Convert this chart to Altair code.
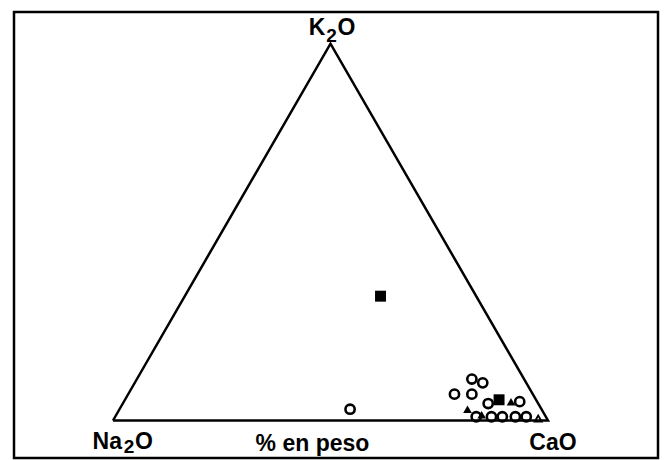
import altair as alt
import pandas as pd

# Sample compositions, % by weight (Na2O, K2O, CaO)
na2o = [22, 44, 12, 10, 18, 14, 11.5, 4, 8.5, 6, 17, 16, 12.5, 10, 7, 4.5, 14.5, 2]
k2o = [33, 3, 11, 10, 7, 7, 4.5, 5, 5.5, 5, 3, 1, 1, 1, 1, 1, 1.5, 0.5]
cao = [45, 53, 77, 80, 75, 79, 84, 91, 86, 89, 80, 83, 86.5, 89, 92, 94.5, 84, 97.5]
kind = ["square", "circle", "circle", "circle", "circle", "circle", "circle", "circle",
        "square", "triangle", "triangle", "circle", "circle", "circle", "circle", "circle",
        "triangle", "open_triangle"]

# Triangle corners as pure end members, closed back to the first
corner_na = [100, 0, 0, 100]
corner_k = [0, 100, 0, 0]
corner_ca = [0, 0, 100, 0]

points = pd.DataFrame({"Na2O": na2o, "K2O": k2o, "CaO": cao, "kind": kind})
corners = pd.DataFrame({"Na2O": corner_na, "K2O": corner_k, "CaO": corner_ca,
                        "order": list(range(len(corner_na)))})

W, H = 644, 446
xs = alt.Scale(domain=[-0.2276, 1.2529], nice=False, zero=False)
ys = alt.Scale(domain=[-0.0862, 0.939], nice=False, zero=False)


def ternary(chart):
    return chart.transform_calculate(
        tot="datum.Na2O + datum.K2O + datum.CaO",
    ).transform_calculate(
        tx="(datum.CaO + datum.K2O / 2) / datum.tot",
        ty="datum.K2O / datum.tot * sqrt(3) / 2",
    )


def xy():
    return dict(
        x=alt.X("tx:Q", scale=xs, axis=None),
        y=alt.Y("ty:Q", scale=ys, axis=None),
    )


outline = ternary(alt.Chart(corners)).mark_line(
    color="black", strokeWidth=2.5, strokeJoin="miter"
).encode(order="order:Q", **xy())

base = ternary(alt.Chart(points))

circles = base.transform_filter("datum.kind == 'circle'").mark_point(
    shape="circle", filled=False, stroke="black", strokeWidth=2.6, size=85, opacity=1
).encode(**xy())

squares = base.transform_filter("datum.kind == 'square'").mark_point(
    shape="square", filled=True, color="black", size=120, opacity=1
).encode(**xy())

triangles = base.transform_filter("datum.kind == 'triangle'").mark_point(
    shape="triangle-up", filled=True, color="black", size=75, opacity=1
).encode(**xy())

open_tri = base.transform_filter("datum.kind == 'open_triangle'").mark_point(
    shape="triangle-up", filled=False, stroke="black", strokeWidth=1.8, size=50, opacity=1
).encode(**xy())

FONT = "Liberation Sans"


def label(text, na, k, ca, dx, dy, size=23, align="center"):
    df = pd.DataFrame({"Na2O": [na], "K2O": [k], "CaO": [ca], "txt": [text]})
    return ternary(alt.Chart(df)).mark_text(
        font=FONT, fontSize=size, fontWeight="bold", color="black",
        align=align, baseline="alphabetic", dx=dx, dy=dy
    ).encode(text="txt:N", **xy())


labels = [
    # K2O at the top corner
    label("K", 0, 100, 0, -5, -9, align="right"),
    label("2", 0, 100, 0, 1, -2, size=19),
    label("O", 0, 100, 0, 7, -9, align="left"),
    # Na2O at the lower left corner
    label("Na", 100, 0, 0, 9, 29, align="right"),
    label("2", 100, 0, 0, 16, 33, size=19),
    label("O", 100, 0, 0, 22, 29, align="left"),
    # CaO at the lower right corner
    label("CaO", 0, 0, 100, 5, 30),
    # axis caption under the base
    label("% en peso", 50, 0, 50, -18, 31),
]

chart = alt.layer(outline, circles, squares, triangles, open_tri, *labels).properties(
    width=W, height=H,
    background="white",
    autosize=alt.AutoSizeParams(type="none"),
    padding={"left": 14, "top": 12, "right": 7, "bottom": 2},
).configure_view(
    stroke="black", strokeWidth=2.5
)

chart.save("out.html", embed_options={"renderer": "svg", "actions": False})
